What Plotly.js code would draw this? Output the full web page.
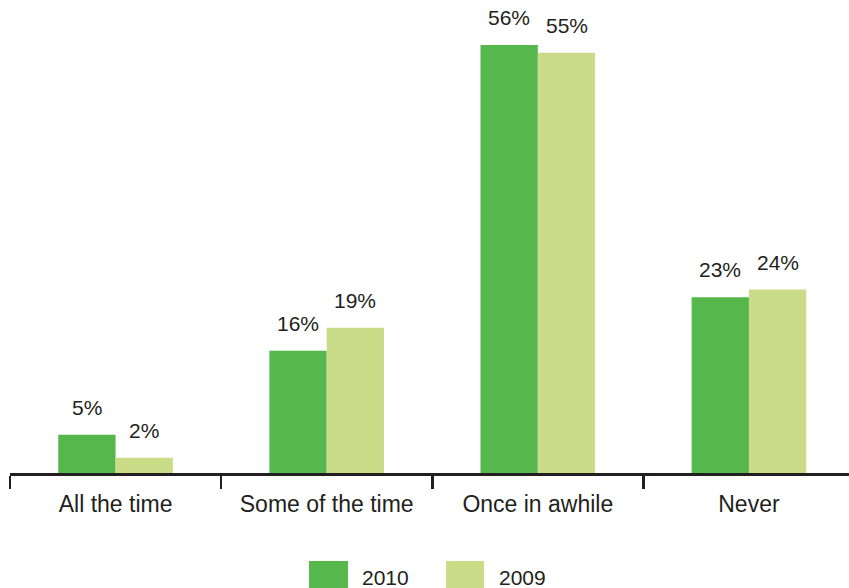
<!DOCTYPE html>
<html>
<head>
<meta charset="utf-8">
<script src="https://cdn.plot.ly/plotly-3.0.1.min.js"></script>
<style>
  html, body { margin: 0; padding: 0; background: #ffffff; }
  #chart { width: 849px; height: 588px; }
</style>
</head>
<body>
<div id="chart"></div>
<script>
// Survey answers, share of respondents (%)
const categories = ["All the time", "Some of the time", "Once in awhile", "Never"];
const seriesNames = ["2010", "2009"];
const values2010 = [5, 16, 56, 23];
const values2009 = [2, 19, 55, 24];

const colors = ["#55b74c", "#cbdc89"];
const ink = "#231f20";
const font = "Liberation Sans, Arial, sans-serif";

const seriesValues = [values2010, values2009];

const traces = seriesValues.map((vals, i) => ({
  type: "bar",
  name: seriesNames[i],
  x: categories,
  y: vals,
  marker: { color: colors[i], line: { width: 0 } },
  hoverinfo: "skip",
  showlegend: false
}));

// Percentage labels above each bar, offset to the matching bar within the group
const barShift = 28.7;
const annotations = [];
seriesValues.forEach((vals, i) => {
  vals.forEach((v, j) => {
    annotations.push({
      x: categories[j], y: v, xref: "x", yref: "y",
      text: v + "%",
      showarrow: false,
      xanchor: "center", yanchor: "bottom",
      xshift: (i === 0 ? -1 : 1) * barShift,
      yshift: 14,
      font: { family: font, size: 21, color: ink }
    });
  });
});

// Legend drawn below the axis with large swatches
const legendItems = [
  { x0: 0.3564, x1: 0.4029, tx: 0.4172 },
  { x0: 0.5197, x1: 0.5650, tx: 0.5805 }
];
const shapes = legendItems.map((it, i) => ({
  type: "rect", xref: "paper", yref: "paper",
  x0: it.x0, x1: it.x1, y0: -0.186, y1: -0.25,
  fillcolor: colors[i], line: { width: 0 }
}));
legendItems.forEach((it, i) => {
  annotations.push({
    x: it.tx, y: -0.2199, xref: "paper", yref: "paper",
    text: seriesNames[i], showarrow: false,
    xanchor: "left", yanchor: "middle",
    font: { family: font, size: 21, color: ink }
  });
});

const layout = {
  width: 849, height: 588,
  margin: { l: 10, r: 0, t: 0, b: 115 },
  paper_bgcolor: "#ffffff",
  plot_bgcolor: "#ffffff",
  barmode: "group",
  bargap: 0.457,
  bargroupgap: 0,
  showlegend: false,
  xaxis: {
    type: "category",
    range: [-0.5, 3.474],
    showline: true, linecolor: ink, linewidth: 2.6,
    ticks: "outside", tickson: "boundaries",
    ticklen: 13, tickwidth: 2.6, tickcolor: ink,
    showgrid: false, zeroline: false,
    tickfont: { family: font, size: 23, color: ink },
    ticklabelstandoff: 9
  },
  yaxis: {
    range: [0, 61.9],
    visible: false,
    showgrid: false, zeroline: false
  },
  shapes: shapes,
  annotations: annotations,
  font: { family: font, color: ink }
};

Plotly.newPlot("chart", traces, layout, { staticPlot: true, displayModeBar: false });
</script>
</body>
</html>
